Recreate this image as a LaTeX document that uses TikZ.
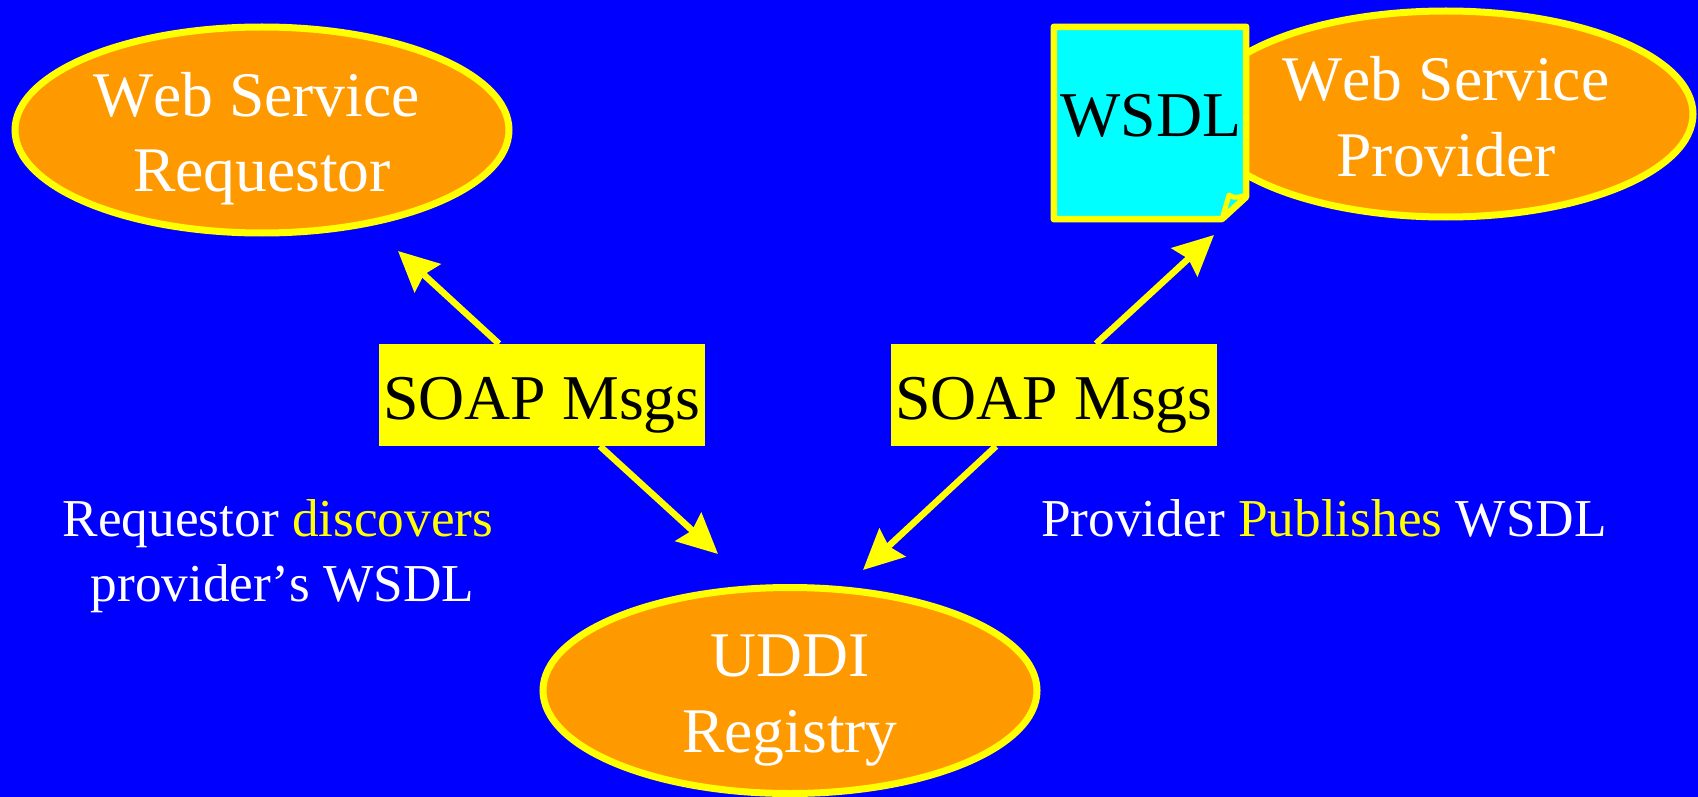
\documentclass[tikz,border=0pt]{standalone}
\usepackage{fontspec}
\setmainfont[Kerning=Off]{Liberation Serif}
\usetikzlibrary{arrows.meta,shapes.geometric}
\definecolor{bgblue}{HTML}{0000FF}
\definecolor{orangeF}{HTML}{FF9900}
\definecolor{yel}{HTML}{FFFF00}
\definecolor{cyn}{HTML}{00FFFF}
\newcommand{\lstrut}[1][56]{\rule[-4pt]{0pt}{#1pt}}
\tikzset{
  x=1pt,y=-1pt,
  party/.style={ellipse,draw=yel,fill=orangeF,line width=7pt,minimum width=494pt,minimum height=206pt,inner sep=0pt,text=white,align=center,font=\fontsize{63.6}{76}\selectfont},
  soapbox/.style={rectangle,fill=yel,text=black,minimum width=326pt,minimum height=102pt,inner sep=0pt,font=\fontsize{63.8}{76}\selectfont,text height=48pt,text depth=0pt},
  caption/.style={text=white,anchor=base,align=center,inner sep=0pt,font=\fontsize{53.3}{65}\selectfont},
  link/.style={yel,line width=6.5pt,-{Stealth[length=40pt,width=38pt,inset=5pt]}},
  notefill/.style={draw=yel,fill=cyn,line width=6.5pt,line join=round}
}
\begin{document}
\begin{tikzpicture}
\useasboundingbox (0,0) rectangle (1698,797);
\fill[bgblue] (0,0) rectangle (1698,797);
\node[party] (req) at (262,130) {\lstrut Web Service\hspace*{11pt}\\\lstrut\smash{Requestor}};
\node[party] (prov) at (1446,114) {\lstrut Web Service\\\lstrut Provider};
\node[party] (uddi) at (790,690.5) {\lstrut UDDI\\\lstrut\smash{Registry}};
\node[soapbox] (soapL) at (542,395) {SOAP Msgs};
\node[soapbox] (soapR) at (1054,395) {SOAP Msgs};
\coordinate (tipA) at (398,251);
\coordinate (tipB) at (718,554);
\coordinate (tipC) at (1214,235);
\coordinate (tipD) at (863,570);
\draw[link] ([xshift=-43pt]soapL.north) -- (tipA);
\draw[link] ([xshift=58pt]soapL.south) -- (tipB);
\draw[link] ([xshift=42pt]soapR.north) -- (tipC);
\draw[link] ([xshift=-58pt]soapR.south) -- (tipD);
\node[rectangle,minimum width=192pt,minimum height=192pt,inner sep=0pt] (wsdl) at (1150,123) {};
\draw[notefill] (wsdl.north west) -- (wsdl.north east) -- (1246,197) -- (1222,219) -- (wsdl.south west) -- cycle;
\draw[yel,line width=5pt,line join=round] (1222,219) -- (1229,195) .. controls (1234,199) and (1240,197) .. (1246,195);
\draw[yel,line width=6pt,line join=round] (1222,219) -- (1246,197);
\node[rectangle,inner sep=0pt,text=black,font=\fontsize{63.8}{76}\selectfont,anchor=base] (wsdltext) at (1151,137) {WSDL};
\node[caption] (capL) at (278,601) {Requestor {\color{yel}discovers}\\\hspace*{9pt}provider’s WSDL};
\node[caption] (capR) at (1324,536) {Provider {\color{yel}Publishes} WSDL};
\end{tikzpicture}
\end{document}
